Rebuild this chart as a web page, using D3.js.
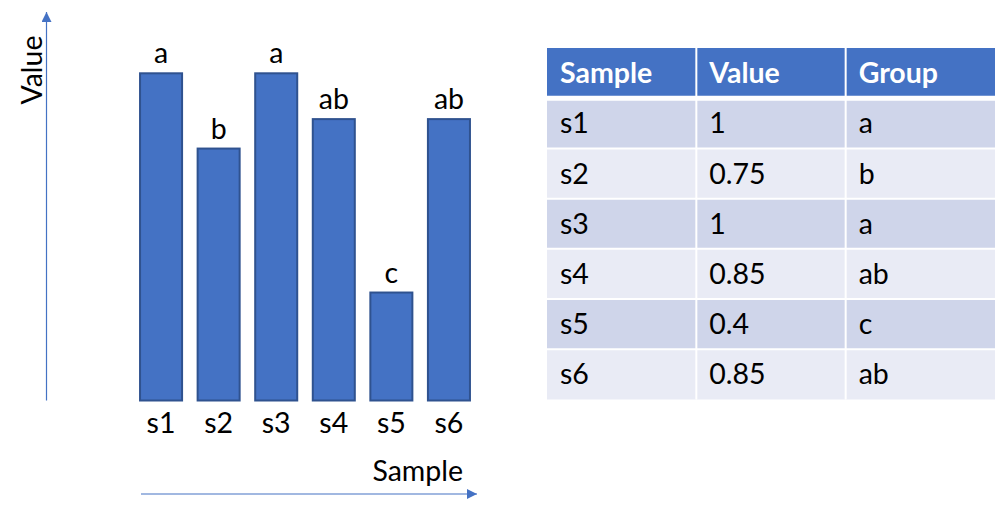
<!DOCTYPE html>
<html>
<head>
<meta charset="utf-8">
<script src="https://cdn.jsdelivr.net/npm/d3@7"></script>
<style>
  html, body { margin: 0; padding: 0; background: #fff; }
  svg { display: block; }
  text { font-family: Lato, "Open Sans", sans-serif; }
</style>
</head>
<body>
<svg id="chart" width="1000" height="510"></svg>
<script>
// ---- data ----
const samples = ["s1", "s2", "s3", "s4", "s5", "s6"];
const barValues = [1, 0.77, 1, 0.86, 0.33, 0.86];   // bar heights as drawn
const groups = ["a", "b", "a", "ab", "c", "ab"];
const tableHeaders = ["Sample", "Value", "Group"];
const tableValues = ["1", "0.75", "1", "0.85", "0.4", "0.85"];
const xTitle = "Sample";
const yTitle = "Value";

// ---- styles ----
const BLUE = "#4472C4";
const BAR_STROKE = "#2F528F";
const ROW_ODD = "#CFD5EA";
const ROW_EVEN = "#E9EBF5";
const FS = 28.5;

const svg = d3.select("#chart");

// ---- bar chart ----
const x = d3.scaleBand().domain(samples).range([124.5, 485.5]).paddingInner(0.27).paddingOuter(0.27);
const y = d3.scaleLinear().domain([0, 1]).range([400.5, 73.3]);

const defs = svg.append("defs");
defs.append("marker")
  .attr("id", "arrow")
  .attr("viewBox", "0 0 10 10")
  .attr("refX", 10).attr("refY", 5)
  .attr("markerUnits", "userSpaceOnUse")
  .attr("markerWidth", 12).attr("markerHeight", 10)
  .attr("orient", "auto")
  .append("path").attr("d", "M0,0 L10,5 L0,10 Z").attr("fill", BLUE);

// axes arrows
svg.append("line")
  .attr("x1", 46.5).attr("y1", 400.5).attr("x2", 46.5).attr("y2", 12)
  .attr("stroke", BLUE).attr("stroke-width", 1.2).attr("marker-end", "url(#arrow)");
svg.append("line")
  .attr("x1", 141).attr("y1", 494).attr("x2", 477).attr("y2", 494)
  .attr("stroke", BLUE).attr("stroke-width", 1.2).attr("marker-end", "url(#arrow)");

// bars
const data = samples.map((s, i) => ({ s, v: barValues[i], g: groups[i] }));
svg.append("g").selectAll("rect").data(data).join("rect")
  .attr("x", d => x(d.s))
  .attr("y", d => y(d.v))
  .attr("width", x.bandwidth())
  .attr("height", d => y(0) - y(d.v))
  .attr("fill", BLUE)
  .attr("stroke", BAR_STROKE)
  .attr("stroke-width", 2);

// group letters
svg.append("g").selectAll("text").data(data).join("text")
  .attr("x", d => x(d.s) + x.bandwidth() / 2)
  .attr("y", d => y(d.v) - 10)
  .attr("text-anchor", "middle")
  .attr("font-size", FS)
  .attr("fill", "#000")
  .text(d => d.g);

// x axis tick labels
const xAxis = d3.axisBottom(x).tickSize(0).tickPadding(0);
const gx = svg.append("g").attr("transform", "translate(0,400.5)").call(xAxis);
gx.select(".domain").remove();
gx.selectAll("text")
  .attr("font-size", FS)
  .attr("font-family", "Lato, 'Open Sans', sans-serif")
  .attr("fill", "#000")
  .attr("dy", null)
  .attr("y", 32);

// axis titles
svg.append("text")
  .attr("x", 463).attr("y", 481)
  .attr("text-anchor", "end")
  .attr("font-size", FS)
  .text(xTitle);
svg.append("text")
  .attr("transform", "translate(42,70) rotate(-90)")
  .attr("text-anchor", "middle")
  .attr("font-size", FS)
  .text(yTitle);

// ---- table ----
const cols = d3.scaleBand().domain(d3.range(tableHeaders.length)).range([547, 995]);
const rows = d3.scaleBand().domain(d3.range(samples.length + 1)).range([48, 399.5]);
const tableRows = [tableHeaders].concat(samples.map((s, i) => [s, tableValues[i], groups[i]]));

const tg = svg.append("g");
tableRows.forEach((r, ri) => {
  r.forEach((cell, ci) => {
    const fill = ri === 0 ? BLUE : (ri % 2 === 1 ? ROW_ODD : ROW_EVEN);
    tg.append("rect")
      .attr("x", cols(ci)).attr("y", rows(ri))
      .attr("width", cols.bandwidth()).attr("height", rows.bandwidth())
      .attr("fill", fill);
    tg.append("text")
      .attr("x", cols(ci) + 13)
      .attr("y", rows(ri) + rows.bandwidth() / 2 + 10)
      .attr("font-size", FS)
      .attr("font-weight", ri === 0 ? "bold" : "normal")
      .attr("fill", ri === 0 ? "#fff" : "#000")
      .text(cell);
  });
});
// white grid lines
tg.selectAll("line.v").data(d3.range(1, tableHeaders.length)).join("line")
  .attr("x1", d => cols(d)).attr("x2", d => cols(d))
  .attr("y1", rows(0)).attr("y2", 399.5)
  .attr("stroke", "#fff").attr("stroke-width", 2);
tg.selectAll("line.h").data(d3.range(1, samples.length + 1)).join("line")
  .attr("x1", 547).attr("x2", 995)
  .attr("y1", d => rows(d)).attr("y2", d => rows(d))
  .attr("stroke", "#fff").attr("stroke-width", d => d === 1 ? 5 : 2);
</script>
</body>
</html>
